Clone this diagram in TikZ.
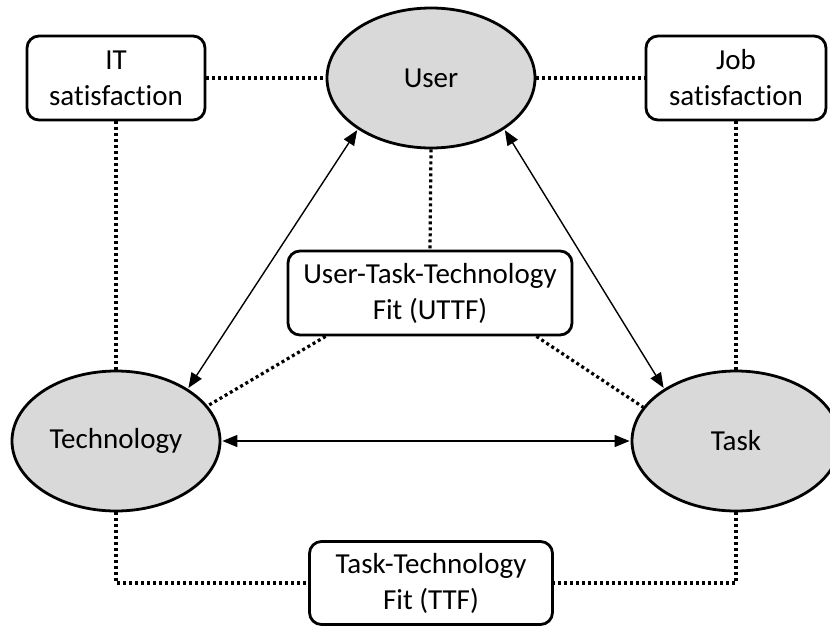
\documentclass[tikz,border=0pt]{standalone}
\usepackage{fontspec}
\setmainfont{Carlito}[Ligatures=NoCommon]
\usetikzlibrary{arrows.meta,shapes.geometric}
\definecolor{ellfill}{HTML}{D9D9D9}
\begin{document}
\begin{tikzpicture}[x=1pt,y=-1pt,
  every node/.style={font=\fontsize{29}{36}\selectfont},
  ell/.style={ellipse, draw, line width=2.8pt, fill=ellfill, minimum width=208pt, minimum height=140pt, inner sep=0pt},
  box/.style={draw, line width=2.8pt, rounded corners=12pt, align=center, inner sep=0pt, fill=white},
  dotln/.style={line width=3.2pt, dash pattern=on 3pt off 3pt},
  arr/.style={line width=1.4pt, {Triangle[length=15pt,width=12pt]}-{Triangle[length=15pt,width=12pt]}, shorten <=1pt, shorten >=1pt}
]
\useasboundingbox (0,0) rectangle (830,627);
\node[ell] (user) at (431,78) {User};
\node[ell] (tech) at (116,441) {Technology};
\node[ell] (task) at (736,441) {Task};
\node[box, minimum width=178pt, minimum height=84pt] (it) at (116,78) {IT\\satisfaction};
\node[box, minimum width=180pt, minimum height=84pt] (job) at (736,78) {Job\\satisfaction};
\node[box, minimum width=284pt, minimum height=84pt] (uttf) at (430,293) {User-Task-Technology\\Fit (UTTF)};
\node[box, minimum width=243pt, minimum height=83pt] (ttf) at (431,583) {Task-Technology\\Fit (TTF)};

\draw[dotln] (it.east) -- (user.west);
\draw[dotln] (user.east) -- (job.west);
\draw[dotln] (it.south) -- (tech.north);
\draw[dotln] (job.south) -- (task.north);
\draw[dotln] (user.south) -- (uttf.north);
\draw[dotln] ([xshift=39pt]uttf.south west) -- (tech.21);
\draw[dotln] ([xshift=-37pt]uttf.south east) -- (task.160);
\draw[dotln] (tech.south) |- (ttf.west);
\draw[dotln] (task.south) |- (ttf.east);

\draw[arr] (user.215) -- (tech.36);
\draw[arr] (user.325) -- (task.144);
\draw[arr] (tech.east) -- (task.west);
\end{tikzpicture}
\end{document}
